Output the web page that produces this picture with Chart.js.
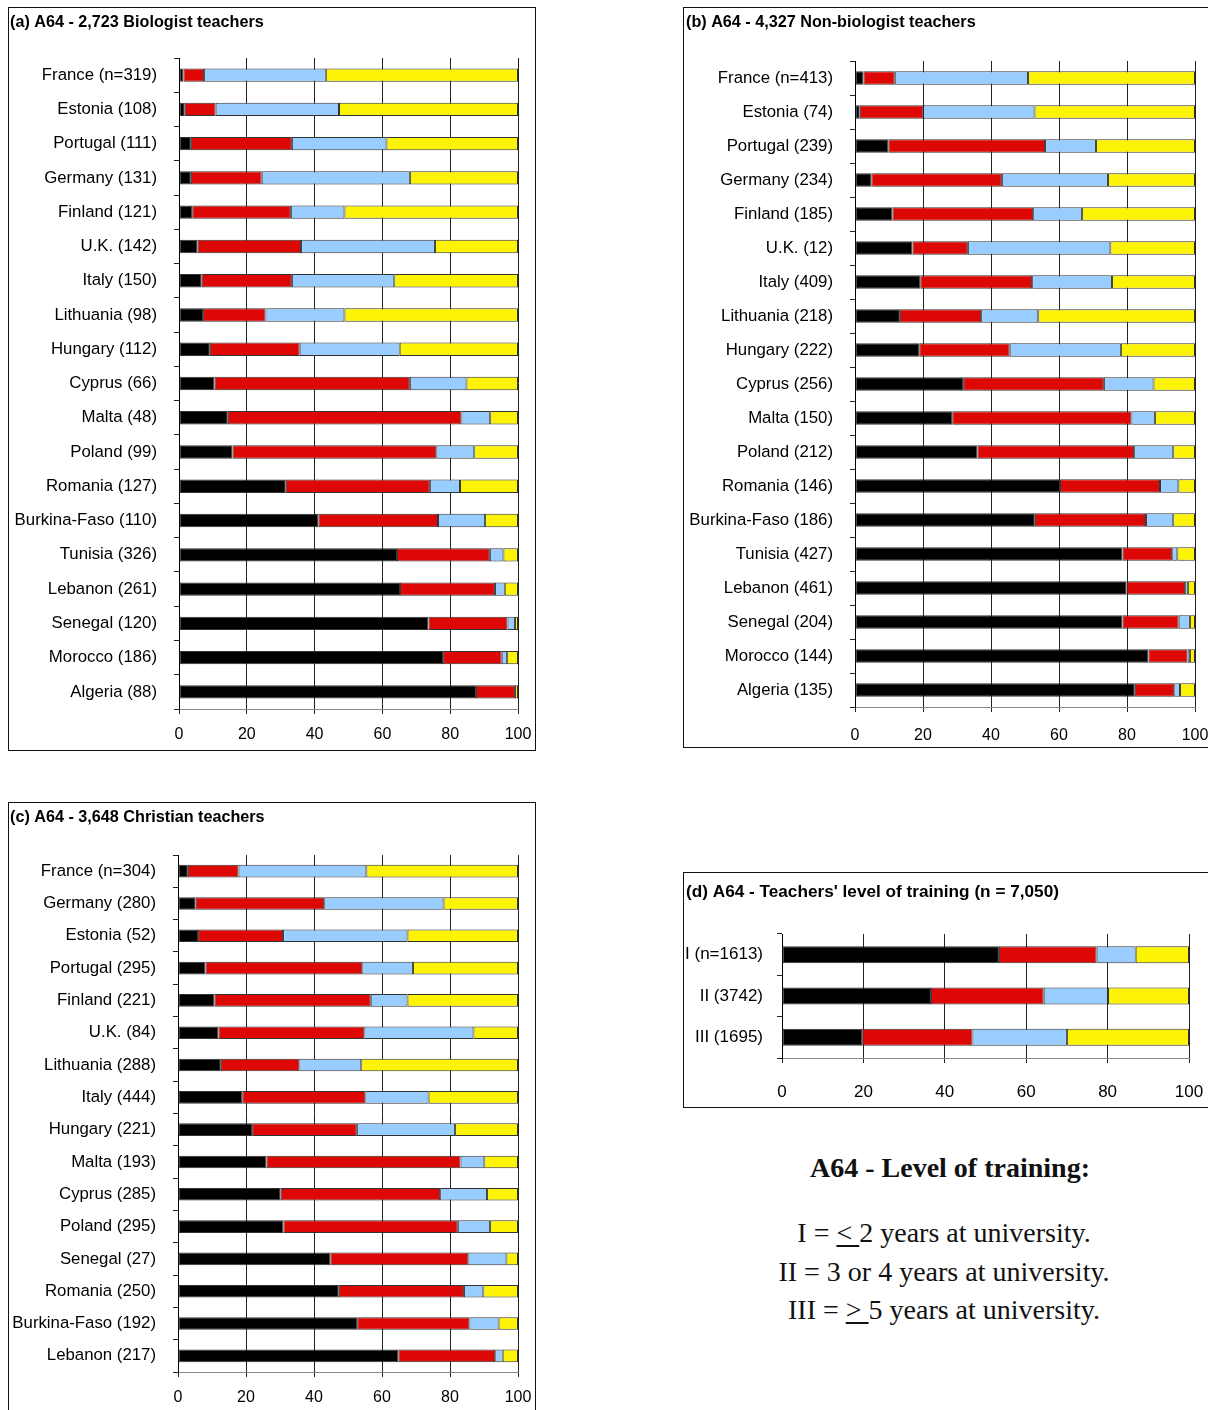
<!DOCTYPE html>
<html>
<head>
<meta charset="utf-8">
<title>A64 - Level of training</title>
<script src="https://cdn.jsdelivr.net/npm/chart.js@4.4.0/dist/chart.umd.min.js"></script>
<style>
    html, body { margin: 0; padding: 0; background: #fff; }
    body { position: relative; width: 1208px; height: 1410px; overflow: hidden; }
    .panel { position: absolute; box-sizing: border-box; border: 1px solid #111; background: #fff; }
    .panel canvas { display: block; }
    #panelA { left: 8px; top: 7px; width: 528px; height: 744px; }
    #panelB { left: 683px; top: 7px; width: 540px; height: 741px; }
    #panelC { left: 8px; top: 802px; width: 528px; height: 640px; }
    #panelD { left: 683px; top: 872px; width: 540px; height: 236px; }
    .notes { position: absolute; left: 690px; width: 508px; text-align: center;
             font-family: 'Liberation Serif', 'Times New Roman', serif; color: #111; white-space: nowrap; }
    .notes.head { top: 1152px; font-size: 28px; line-height: 32px; font-weight: bold; padding-left: 6px; }
    .notes.line { font-size: 28px; line-height: 38px; }
    .notes u { text-underline-offset: 3px; }
</style>
</head>
<body>
<div class="panel" id="panelA"><canvas id="chartA" width="526" height="742"></canvas></div>
<div class="panel" id="panelB"><canvas id="chartB" width="538" height="739"></canvas></div>
<div class="panel" id="panelC"><canvas id="chartC" width="526" height="638"></canvas></div>
<div class="panel" id="panelD"><canvas id="chartD" width="538" height="234"></canvas></div>

<div class="notes head">A64 - Level of training:</div>
<div class="notes line" style="top:1214px">I = <u>&lt;&nbsp;</u>2 years at university.</div>
<div class="notes line" style="top:1253px">II = 3 or 4 years at university.</div>
<div class="notes line" style="top:1291px">III = <u>&gt;&nbsp;</u>5 years at university.</div>

<script>
// segment names (no legend is shown in the original)
const segmentNames = ['Option 1', 'Option 2', 'Option 3', 'Option 4'];
const segmentColors = ['#000000', '#DD0806', '#99CCFF', '#FCF305'];
const xTicks = [0, 20, 40, 60, 80, 100];

// (a) biologist teachers
const bioLabels = ['France (n=319)', 'Estonia (108)', 'Portugal (111)', 'Germany (131)', 'Finland (121)',
    'U.K. (142)', 'Italy (150)', 'Lithuania (98)', 'Hungary (112)', 'Cyprus (66)', 'Malta (48)',
    'Poland (99)', 'Romania (127)', 'Burkina-Faso (110)', 'Tunisia (326)', 'Lebanon (261)',
    'Senegal (120)', 'Morocco (186)', 'Algeria (88)'];
const bioBlack  = [1.3, 1.7, 3.5, 3.5, 3.9, 5.5, 6.7, 7.1, 9.1, 10.5, 14.4, 15.8, 31.5, 41.1, 64.3, 65.2, 73.6, 77.9, 87.6];
const bioRed    = [6.1, 9.1, 29.8, 20.9, 29.1, 30.5, 26.6, 18.4, 26.5, 57.6, 68.9, 60.1, 42.5, 35.3, 27.4, 28.0, 23.3, 17.3, 11.5];
const bioBlue   = [35.9, 36.4, 27.9, 43.7, 15.8, 39.5, 30.2, 23.3, 29.5, 16.7, 8.5, 11.2, 8.9, 13.9, 4.0, 2.9, 2.2, 1.6, 0];
const bioYellow = [56.7, 52.8, 38.8, 31.9, 51.2, 24.5, 36.5, 51.2, 34.9, 15.2, 8.2, 12.9, 17.1, 9.7, 4.3, 3.9, 0.9, 3.2, 0.9];

// (b) non-biologist teachers
const nonBioLabels = ['France (n=413)', 'Estonia (74)', 'Portugal (239)', 'Germany (234)', 'Finland (185)',
    'U.K. (12)', 'Italy (409)', 'Lithuania (218)', 'Hungary (222)', 'Cyprus (256)', 'Malta (150)',
    'Poland (212)', 'Romania (146)', 'Burkina-Faso (186)', 'Tunisia (427)', 'Lebanon (461)',
    'Senegal (204)', 'Morocco (144)', 'Algeria (135)'];
const nonBioBlack  = [2.5, 1.4, 9.8, 4.8, 11.0, 16.9, 19.2, 13.2, 18.9, 31.8, 28.6, 36.0, 60.3, 52.9, 78.7, 79.9, 78.7, 86.3, 82.3];
const nonBioRed    = [9.2, 18.7, 46.1, 38.4, 41.4, 16.3, 32.9, 23.9, 26.6, 41.4, 52.7, 46.1, 29.4, 32.7, 14.6, 17.2, 16.5, 11.5, 11.6];
const nonBioBlue   = [39.2, 32.7, 15.0, 31.2, 14.4, 41.9, 23.5, 16.8, 32.7, 14.6, 6.9, 11.5, 5.4, 8.0, 1.5, 0.8, 3.3, 0.7, 1.7];
const nonBioYellow = [49.1, 47.2, 29.1, 25.6, 33.2, 24.9, 24.4, 46.1, 21.8, 12.2, 11.8, 6.4, 4.9, 6.4, 5.2, 2.1, 1.5, 1.5, 4.4];

// (c) christian teachers
const chrLabels = ['France (n=304)', 'Germany (280)', 'Estonia (52)', 'Portugal (295)', 'Finland (221)',
    'U.K. (84)', 'Lithuania (288)', 'Italy (444)', 'Hungary (221)', 'Malta (193)', 'Cyprus (285)',
    'Poland (295)', 'Senegal (27)', 'Romania (250)', 'Burkina-Faso (192)', 'Lebanon (217)'];
const chrBlack  = [2.9, 5.2, 5.9, 8.1, 10.7, 11.9, 12.6, 18.9, 21.8, 26.0, 30.2, 31.0, 44.8, 47.3, 52.7, 64.8];
const chrRed    = [14.9, 37.8, 25.0, 46.1, 46.0, 42.9, 23.1, 36.2, 30.8, 57.1, 46.9, 51.3, 40.6, 36.8, 33.0, 28.5];
const chrBlue   = [37.6, 35.1, 36.6, 14.9, 10.8, 32.1, 18.2, 18.6, 28.9, 7.0, 13.8, 9.5, 11.2, 5.7, 8.6, 2.2];
const chrYellow = [44.6, 21.9, 32.5, 30.9, 32.5, 13.1, 46.1, 26.3, 18.5, 9.9, 9.1, 8.2, 3.4, 10.2, 5.7, 4.5];

// (d) level of training
const lvlLabels = ['I (n=1613)', 'II (3742)', 'III (1695)'];
const lvlBlack  = [53.3, 36.6, 19.7];
const lvlRed    = [24.0, 27.7, 27.1];
const lvlBlue   = [9.6, 15.8, 23.2];
const lvlYellow = [13.1, 19.9, 30.0];

const ARIAL = "'Liberation Sans', Arial, sans-serif";

function buildPanel(canvasId, title, labels, series, look) {
    const canvas = document.getElementById(canvasId);
    const box = canvas.getBoundingClientRect();
    const p = look.plot;

    const padLeft = look.titleX - box.left;
    const titleLH = look.titleSize * 1.2;
    const titleTop = look.titleY - box.top - titleLH / 2;
    const titleBottom = p.t - box.top - titleTop - titleLH;
    const yWidth = p.l - box.left - padLeft;
    const xHeight = box.top + box.height - p.b;

    const datasets = series.map(function (values, i) {
        return {
            label: segmentNames[i],
            data: values,
            backgroundColor: segmentColors[i],
            borderColor: '#333333',
            borderWidth: 1,
            borderSkipped: false,
            barPercentage: look.barPct,
            categoryPercentage: 1
        };
    });

    return new Chart(canvas, {
        type: 'bar',
        data: { labels: labels, datasets: datasets },
        options: {
            indexAxis: 'y',
            responsive: false,
            animation: false,
            layout: {
                padding: { left: padLeft, right: box.left + box.width - p.r, top: 0, bottom: 0 }
            },
            plugins: {
                legend: { display: false },
                tooltip: { enabled: false },
                title: {
                    display: true,
                    text: title,
                    align: 'start',
                    color: '#000',
                    font: { family: ARIAL, size: look.titleSize, weight: 'bold' },
                    padding: { top: titleTop, bottom: titleBottom }
                }
            },
            scales: {
                x: {
                    stacked: true,
                    min: 0,
                    max: 100,
                    afterBuildTicks: function (scale) {
                        scale.ticks = xTicks.map(v => ({ value: v }));
                    },
                    afterFit: function (scale) {
                        // keep the plot edges where they are in the original
                        scale.height = xHeight;
                        scale.paddingLeft = 0;
                        scale.paddingRight = 0;
                    },
                    grid: { color: '#222', lineWidth: 1, tickLength: 5 },
                    border: { display: true, color: '#888' },
                    ticks: {
                        color: '#000',
                        padding: look.xPad,
                        maxRotation: 0,
                        font: { family: ARIAL, size: look.tickSize }
                    }
                },
                y: {
                    stacked: true,
                    afterFit: function (scale) {
                        scale.width = yWidth;
                        scale.paddingTop = 0;
                        scale.paddingBottom = 0;
                    },
                    grid: { drawOnChartArea: false, color: '#222', tickLength: 5 },
                    border: { display: true, color: '#000' },
                    ticks: {
                        color: '#000',
                        padding: look.yPad,
                        autoSkip: false,
                        font: { family: ARIAL, size: look.labelSize }
                    }
                }
            }
        }
    });
}

document.addEventListener('DOMContentLoaded', function () {
    const common = { titleSize: 16.2, labelSize: 16.8, tickSize: 16, yPad: 17, barPct: 0.39 };

    buildPanel('chartA', '(a) A64 - 2,723 Biologist teachers', bioLabels,
        [bioBlack, bioRed, bioBlue, bioYellow],
        Object.assign({}, common, { plot: { l: 179, t: 58, r: 518, b: 709 }, titleX: 10, titleY: 22.5, xPad: 10.5 }));

    buildPanel('chartB', '(b) A64 - 4,327 Non-biologist teachers', nonBioLabels,
        [nonBioBlack, nonBioRed, nonBioBlue, nonBioYellow],
        Object.assign({}, common, { plot: { l: 855, t: 61, r: 1195, b: 707 }, titleX: 686, titleY: 22.5, xPad: 13.5 }));

    buildPanel('chartC', '(c) A64 - 3,648 Christian teachers', chrLabels,
        [chrBlack, chrRed, chrBlue, chrYellow],
        Object.assign({}, common, { plot: { l: 178, t: 855, r: 518, b: 1372 }, titleX: 10, titleY: 817.5, xPad: 11 }));

    buildPanel('chartD', "(d) A64 - Teachers' level of training (n = 7,050)", lvlLabels,
        [lvlBlack, lvlRed, lvlBlue, lvlYellow],
        { titleSize: 17.2, labelSize: 17, tickSize: 17, yPad: 14, xPad: 19, barPct: 0.41,
          plot: { l: 782, t: 934, r: 1189, b: 1058 }, titleX: 686, titleY: 892.5 });
});
</script>
</body>
</html>
